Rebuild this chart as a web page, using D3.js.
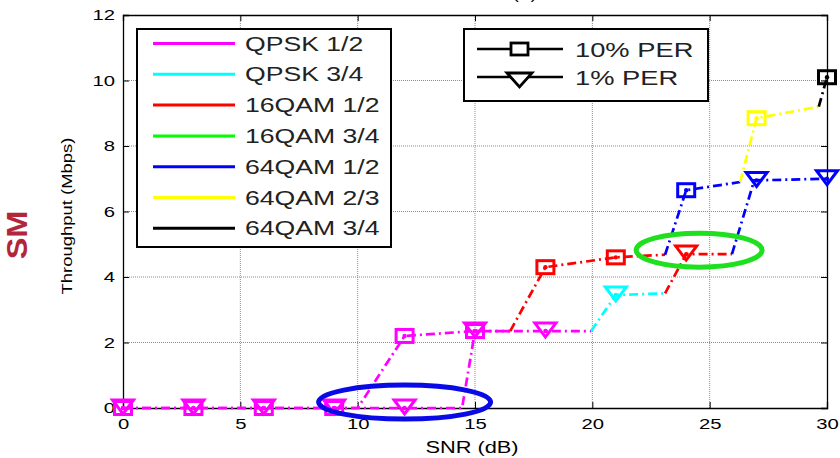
<!DOCTYPE html>
<html><head><meta charset="utf-8">
<script src="https://cdn.jsdelivr.net/npm/d3@7/dist/d3.min.js"></script>
<style>body{margin:0;background:#fff;} svg{display:block;} text{font-family:"Liberation Sans",Arial,sans-serif;}</style>
</head><body>
<svg id="c" width="840" height="458"></svg>
<script>
// ---------- data ----------
const modulations = ["QPSK 1/2","QPSK 3/4","16QAM 1/2","16QAM 3/4","64QAM 1/2","64QAM 2/3","64QAM 3/4"];
const modColors = ["#ff00ff","#00ffff","#ff0000","#00ff00","#0000ff","#ffff00","#000000"];
const perLabels = ["10% PER","1% PER"];
const xTicks = [0,5,10,15,20,25,30];
const yTicks = [0,2,4,6,8,10,12];

// measured SNR points (markers)
const snrPoints = [0,3,6,9,12,15,18,21,24,27,30];
const tenPerThroughput = [0,0,0,0,2.2,2.35,4.3,4.6,6.65,8.85,10.1];
const tenPerMod        = [0,0,0,0,0,0,2,2,4,5,6];
const onePerThroughput = [0,0,0,0,0,2.35,2.35,3.45,4.7,6.95,7.0];
const onePerMod        = [0,0,0,0,0,0,0,1,2,4,4];

// line pieces per modulation (including switching points)
const tenPerSegments = [
  {mod:0, x:[0,3,6,9,10,12,15,16.5], y:[0,0,0,0,0,2.2,2.35,2.35]},
  {mod:2, x:[16.5,18,21,23.1], y:[2.35,4.3,4.6,4.68]},
  {mod:4, x:[23.1,24,26.3], y:[4.68,6.65,6.9]},
  {mod:5, x:[26.3,27,29.65], y:[6.9,8.85,9.2]},
  {mod:6, x:[29.65,30], y:[9.2,10.1]}
];
const onePerSegments = [
  {mod:0, x:[0,3,6,9,12,14.45,15,18,19.95], y:[0,0,0,0,0,0,2.35,2.35,2.35]},
  {mod:1, x:[19.95,21,23.1], y:[2.35,3.45,3.5]},
  {mod:2, x:[23.1,24,25.95], y:[3.5,4.7,4.7]},
  {mod:4, x:[25.95,26.9,30], y:[4.7,6.95,7.0]}
];
// highlight ellipses (centre in data units)
const ellipses = [
  {cx:12.0, cy:0.18, color:"#0a0ae6"},
  {cx:24.55, cy:4.82, color:"#1ee01e"}
];

// ---------- drawing ----------
const svg = d3.select("#c");
const L=123, R=827, T=15, B=408;
const x = d3.scaleLinear().domain([0,30]).range([L,R]);
const y = d3.scaleLinear().domain([0,12]).range([B,T]);

function stretch(sel,k){
  sel.each(function(){
    const w=this.getComputedTextLength();
    d3.select(this).attr("textLength",w*k).attr("lengthAdjust","spacingAndGlyphs");
  });
}

// title (mostly clipped at the top, as in the reference)
svg.append("text").attr("x",475).attr("y",-1).attr("text-anchor","middle")
  .attr("font-size",16).attr("fill","#000").text("MIMO SM (b)").call(stretch,1.3);

// grid
const grid = svg.append("g").attr("stroke","#8c8c8c").attr("stroke-width",1).attr("stroke-dasharray","1,1");
grid.selectAll("line.gx").data(xTicks.slice(1,-1)).join("line")
  .attr("x1",d=>x(d)).attr("x2",d=>x(d)).attr("y1",T).attr("y2",B);
grid.selectAll("line.gy").data(yTicks.slice(1,-1)).join("line")
  .attr("y1",d=>y(d)).attr("y2",d=>y(d)).attr("x1",L).attr("x2",R);

// axes with inward ticks on all sides
const ax = svg.append("g");
ax.append("g").attr("transform",`translate(0,${B})`)
  .call(d3.axisBottom(x).tickValues(xTicks).tickSize(-6).tickPadding(10));
ax.append("g").attr("transform",`translate(0,${T})`)
  .call(d3.axisTop(x).tickValues(xTicks).tickSize(-6).tickFormat(""));
ax.append("g").attr("transform",`translate(${L},0)`)
  .call(d3.axisLeft(y).tickValues(yTicks).tickSize(-6).tickPadding(8));
ax.append("g").attr("transform",`translate(${R},0)`)
  .call(d3.axisRight(y).tickValues(yTicks).tickSize(-6).tickFormat(""));
ax.selectAll(".domain").attr("stroke","#000").attr("stroke-width",1.3);
ax.selectAll(".tick line").attr("stroke","#000");
ax.selectAll(".tick text").attr("font-size",15).attr("fill","#000")
  .style("font-family",'"Liberation Sans",Arial,sans-serif').call(stretch,1.35);

// axis labels
svg.append("text").attr("x",472).attr("y",453).attr("text-anchor","middle")
  .attr("font-size",16).attr("fill","#000").text("SNR (dB)").call(stretch,1.36);
svg.append("text").attr("transform","translate(72,216) rotate(-90)").attr("text-anchor","middle")
  .attr("font-size",15).attr("fill","#000").text("Throughput (Mbps)").call(stretch,1.23);
svg.append("text").attr("transform","translate(27,235) rotate(-90)").attr("text-anchor","middle")
  .attr("font-size",29).attr("font-weight","bold").attr("fill","#b3253a").text("SM").call(stretch,1.12);

// series
const line = d3.line().x(d=>x(d[0])).y(d=>y(d[1]));
const dash = "9,4,2,4";
const plot = svg.append("g");
function drawSegments(segs){
  segs.forEach(s=>{
    plot.append("path").datum(s.x.map((v,i)=>[v,s.y[i]])).attr("d",line)
      .attr("fill","none").attr("stroke",modColors[s.mod]).attr("stroke-width",2.7)
      .attr("stroke-dasharray",dash);
  });
}
drawSegments(tenPerSegments);
drawSegments(onePerSegments);

function square(g,cx,cy,col,w=17,h=13){
  g.append("rect").attr("x",cx-w/2).attr("y",cy-h/2).attr("width",w).attr("height",h)
    .attr("fill","none").attr("stroke",col).attr("stroke-width",3);
}
function tri(g,cx,cy,col,w=21,h=14){
  g.append("path").attr("d",`M${cx-w/2},${cy-h/2}L${cx+w/2},${cy-h/2}L${cx},${cy+h/2}Z`)
    .attr("fill","none").attr("stroke",col).attr("stroke-width",3).attr("stroke-linejoin","miter");
}
function dot(g,cx,cy,col){
  g.append("circle").attr("cx",cx).attr("cy",cy).attr("r",2.2).attr("fill",col);
}
snrPoints.forEach((s,i)=>{
  const c=modColors[tenPerMod[i]];
  square(plot,x(s),y(tenPerThroughput[i]),c); dot(plot,x(s),y(tenPerThroughput[i]),c);
});
snrPoints.forEach((s,i)=>{
  const c=modColors[onePerMod[i]];
  tri(plot,x(s),y(onePerThroughput[i])-1,c); dot(plot,x(s),y(onePerThroughput[i]),c);
});

// legend 1 (modulations)
const lg1 = svg.append("g");
lg1.append("rect").attr("x",137).attr("y",29).attr("width",254).attr("height",218)
  .attr("fill","#fff").attr("stroke","#000").attr("stroke-width",2);
modulations.forEach((m,i)=>{
  const yy = 43.5 + i*30.8;
  lg1.append("line").attr("x1",153).attr("x2",235).attr("y1",yy).attr("y2",yy)
    .attr("stroke",modColors[i]).attr("stroke-width",3);
  lg1.append("text").attr("x",245).attr("y",yy+7).attr("font-size",20).attr("fill","#222")
    .text(m).call(stretch,1.33);
});

// legend 2 (PER)
const lg2 = svg.append("g");
lg2.append("rect").attr("x",464).attr("y",29).attr("width",244).attr("height",72)
  .attr("fill","#fff").attr("stroke","#000").attr("stroke-width",2);
perLabels.forEach((p,i)=>{
  const yy = 49 + i*28;
  lg2.append("line").attr("x1",477).attr("x2",563).attr("y1",yy).attr("y2",yy)
    .attr("stroke","#000").attr("stroke-width",2.6);
  if(i===0){ lg2.append("rect").attr("x",511).attr("y",yy-6).attr("width",17).attr("height",12)
    .attr("fill","#fff").attr("stroke","#000").attr("stroke-width",2.8); }
  else { lg2.append("path").attr("d",`M${507},${yy-4}L${532},${yy-4}L${519.5},${yy+10}Z`)
    .attr("fill","#fff").attr("stroke","#000").attr("stroke-width",2.8); }
  lg2.append("text").attr("x",575).attr("y",yy+8).attr("font-size",21).attr("fill","#222")
    .text(p).call(stretch,1.3);
});

// highlight ellipses
svg.selectAll("ellipse.hl").data(ellipses).join("ellipse")
  .attr("cx",d=>x(d.cx)).attr("cy",d=>y(d.cy))
  .attr("rx",(d,i)=>i===0?86:63).attr("ry",17)
  .attr("fill","none").attr("stroke",d=>d.color).attr("stroke-width",5);
</script>
</body></html>
